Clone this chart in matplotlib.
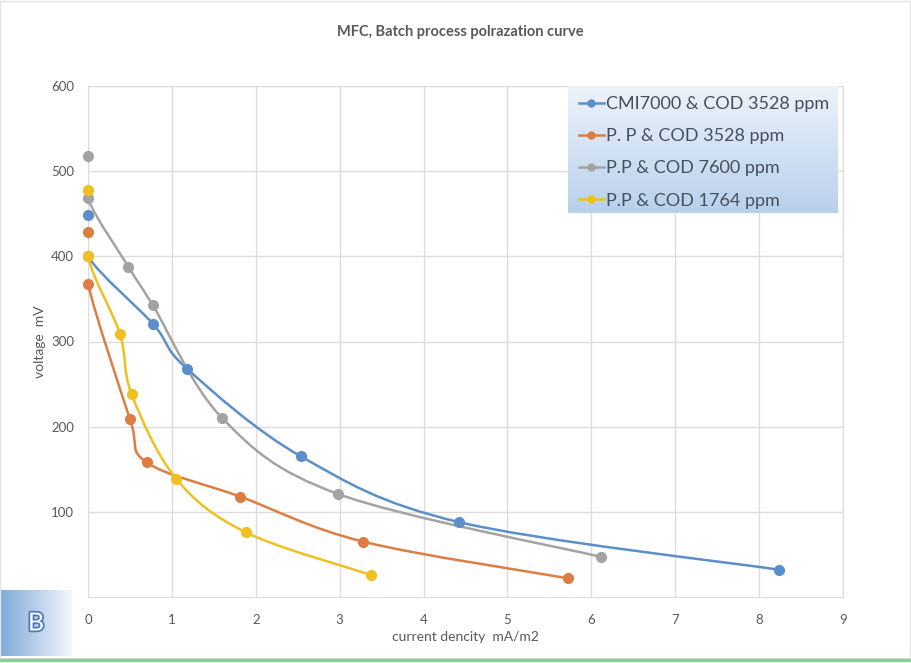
import numpy as np
import matplotlib
matplotlib.use("Agg")
import matplotlib.pyplot as plt
from matplotlib.path import Path
from matplotlib.patches import PathPatch, Rectangle
from matplotlib.lines import Line2D
import matplotlib.patheffects as pe

plt.rcParams['font.family'] = ['Lato', 'DejaVu Sans']

# data (x: current density mA/m2, y: voltage mV)
cmi_x = [0, 0, 0.78, 1.18, 2.54, 4.42, 8.24]
cmi_y = [448, 400, 320, 268, 165, 88, 32]
pp3528_x = [0, 0, 0.50, 0.70, 1.81, 3.28, 5.72]
pp3528_y = [429, 368, 209, 158, 118, 65, 22]
pp7600_x = [0, 0, 0.48, 0.77, 1.60, 2.98, 6.12]
pp7600_y = [518, 468, 388, 343, 210, 121, 47]
pp1764_x = [0, 0, 0.38, 0.52, 1.05, 1.88, 3.37]
pp1764_y = [478, 400, 309, 238, 139, 76, 26]

labels = ["CMI7000 & COD 3528 ppm", "P. P & COD 3528 ppm",
          "P.P & COD 7600 ppm", "P.P & COD 1764 ppm"]
colors = ["#5b8fc9", "#dc7d44", "#a3a3a3", "#f0c020"]
series = [(cmi_x, cmi_y), (pp3528_x, pp3528_y), (pp7600_x, pp7600_y), (pp1764_x, pp1764_y)]

x_ticks = list(range(0, 10))
y_ticks = [100, 200, 300, 400, 500, 600]


def smooth_path(xs, ys):
    # excel-like smoothed line: cubic bezier segments through the points
    pts = np.column_stack([xs, ys]).astype(float)
    n = len(pts)
    verts = [pts[0]]
    codes = [Path.MOVETO]
    for i in range(n - 1):
        p0 = pts[i - 1] if i > 0 else pts[i]
        p1, p2 = pts[i], pts[i + 1]
        p3 = pts[i + 2] if i + 2 < n else pts[i + 1]
        verts += [p1 + (p2 - p0) / 6, p2 - (p3 - p1) / 6, p2]
        codes += [Path.CURVE4] * 3
    return Path(verts, codes)


fig = plt.figure(figsize=(9.11, 6.63), dpi=100)
ax = fig.add_axes([88 / 911, 1 - 597 / 663, 755 / 911, 511 / 663])

for (xs, ys), c in zip(series, colors):
    ax.add_patch(PathPatch(smooth_path(xs, ys), facecolor="none", edgecolor=c,
                           lw=1.8, zorder=3, capstyle="round", joinstyle="round"))
    ax.plot(xs, ys, "o", color=c, ms=7, zorder=4, clip_on=False)

ax.set_xlim(0, 9)
ax.set_ylim(0, 600)
ax.set_xticks(x_ticks)
ax.set_yticks(y_ticks)
ax.grid(True, color="#dcdcdc", lw=1)
ax.set_axisbelow(True)
for s in ax.spines.values():
    s.set_color("#dcdcdc")
ax.tick_params(length=0, labelsize=9.5, colors="#595959")
ax.tick_params(axis="x", pad=12)
ax.tick_params(axis="y", pad=10)
ax.set_xlabel("current dencity  mA/m2", fontsize=10, color="#595959", labelpad=4)
ax.set_ylabel("voltage  mV", fontsize=10, color="#595959", labelpad=4)

fig.text(0.505, 1 - 32 / 663, "MFC, Batch process polrazation curve", ha="center",
         va="center", fontsize=10.5, fontweight="bold", color="#595959")

# legend with gradient background (light at top, bluer at bottom)
lx0, lx1 = (568 - 88) / 755, (838 - 88) / 755
ly0, ly1 = (597 - 213) / 511, (597 - 85) / 511
grad = np.linspace(0, 1, 100).reshape(-1, 1)
cmap = matplotlib.colors.LinearSegmentedColormap.from_list("lg", ["#eef3fa", "#d3e2f3", "#b9d0eb"])
ax.imshow(grad, extent=[lx0, lx1, ly0, ly1], transform=ax.transAxes, cmap=cmap,
          aspect="auto", zorder=5, origin="upper")
ax.set_xlim(0, 9)
ax.set_ylim(0, 600)
handles = [Line2D([], [], color=c, lw=1.8, marker="o", ms=5) for c in colors]
leg = ax.legend(handles, labels, loc="upper left", bbox_to_anchor=(lx0, ly1),
                frameon=False, fontsize=13, labelcolor="#44505f", handlelength=1.4,
                handletextpad=0.1, labelspacing=0.9, borderaxespad=0, borderpad=0.6)
leg.set_zorder(6)

# "B" badge at bottom left
bax = fig.add_axes([0, 1 - 656 / 663, 72 / 911, 66 / 663])
bgrad = np.linspace(0, 1, 100).reshape(1, -1)
bcmap = matplotlib.colors.LinearSegmentedColormap.from_list("bg", ["#7fa9d9", "#f2f6fb"])
bax.imshow(bgrad, cmap=bcmap, aspect="auto", extent=[0, 1, 0, 1])
bax.set_axis_off()
bax.text(0.5, 0.5, "B", ha="center", va="center", fontsize=18, color="white",
         path_effects=[pe.withStroke(linewidth=2.5, foreground="#4a78c0")])

# green line along bottom edge and faint frame
fig.add_artist(Line2D([0, 1], [1 - 660 / 663] * 2, color="#86d486", lw=2.5))
fig.add_artist(Rectangle((0, 1 - 658 / 663), 0.999, 658 / 663 - 0.002, fill=False,
                         edgecolor="#e2e2e2", lw=1))

fig.savefig("out.png", dpi=100)
